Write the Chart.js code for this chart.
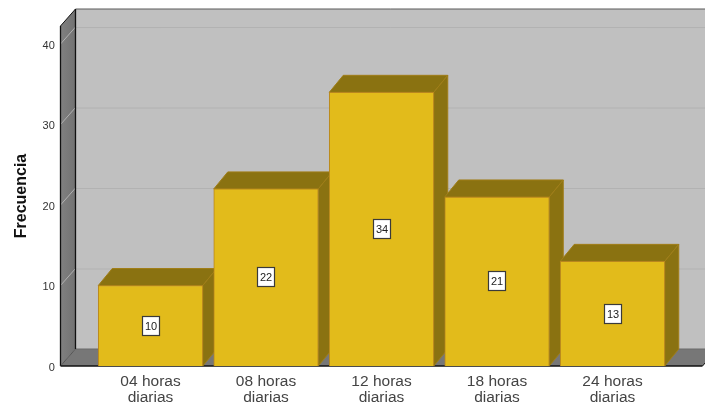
<!DOCTYPE html>
<html>
<head>
<meta charset="utf-8">
<script src="https://cdn.jsdelivr.net/npm/chart.js@4"></script>
<style>html,body{margin:0;padding:0;background:#fff}canvas{display:block}</style>
</head>
<body>
<canvas id="c" width="705" height="405"></canvas>
<script>
const categories = [["04 horas","diarias"],["08 horas","diarias"],["12 horas","diarias"],["18 horas","diarias"],["24 horas","diarias"]];
const frequencies = [10,22,34,21,13];
const yTickValues = [0,10,20,30,40];
const yAxisTitle = "Frecuencia";

const DX = 15, DY = 17, BAR_DX = 14;
const FONT = '"Liberation Sans", Arial, sans-serif';

function poly(ctx, pts, fill, stroke) {
  ctx.beginPath();
  pts.forEach((p,i)=> i ? ctx.lineTo(p[0],p[1]) : ctx.moveTo(p[0],p[1]));
  ctx.closePath();
  if (fill) { ctx.fillStyle = fill; ctx.fill(); }
  if (stroke) { ctx.strokeStyle = stroke; ctx.lineWidth = 1; ctx.stroke(); }
}
function line(ctx, x1,y1,x2,y2,color,w) {
  ctx.beginPath(); ctx.moveTo(x1,y1); ctx.lineTo(x2,y2);
  ctx.strokeStyle = color; ctx.lineWidth = w||1; ctx.stroke();
}

const box3d = {
  id:'box3d',
  beforeDatasetsDraw(chart){
    const ctx = chart.ctx, ys = chart.scales.y;
    const L = 60.5, R = 702.5, B = ys.getPixelForValue(0), T = ys.getPixelForValue(ys.max);
    ctx.save();
    poly(ctx, [[L+DX,T-DY],[R+DX,T-DY],[R+DX,B-DY],[L+DX,B-DY]], '#c0c0c0');
    const g = ctx.createLinearGradient(L,0,L+DX,0);
    g.addColorStop(0,'#808080'); g.addColorStop(1,'#727272');
    poly(ctx, [[L,T],[L+DX,T-DY],[L+DX,B-DY],[L,B]], g);
    poly(ctx, [[L,B],[L+DX,B-DY],[R+DX,B-DY],[R,B]], '#777777');
    yTickValues.forEach(v=>{
      const y = ys.getPixelForValue(v);
      if (v>0) {
        line(ctx, L+DX, y-DY+0.5, R+DX, y-DY+0.5, '#b2b2b2');
        line(ctx, L, y, L+DX, y-DY, '#b2b2b2');
      }
    });
    line(ctx, L+DX, T-DY, R+DX, T-DY, '#5a5a5a');
    line(ctx, L+DX, B-DY, R+DX, B-DY, '#6a6a6a');
    line(ctx, L+DX, T-DY, L+DX, B-DY, '#111', 1.3);
    line(ctx, L, T, L, B, '#111', 1.3);
    line(ctx, L, T, L+DX, T-DY, '#111', 1);
    line(ctx, L, B, L+DX, B-DY, '#555', 1);
    line(ctx, L, B, R, B, '#111', 1.3);
    line(ctx, R, B, R+DX, B-DY, '#111', 1);
    const meta = chart.getDatasetMeta(0);
    meta.data.forEach(bar=>{
      const p = bar.getProps(['x','y','base','width'], true);
      const l = p.x-p.width/2, r = p.x+p.width/2, t = p.y, b = p.base;
      poly(ctx, [[l,t],[l+BAR_DX,t-DY],[r+BAR_DX,t-DY],[r,t]], '#8a7211', '#a07e18');
      poly(ctx, [[r,t],[r+BAR_DX,t-DY],[r+BAR_DX,b-DY],[r,b]], '#8a7211', '#a07e18');
    });
    ctx.restore();
  },
  afterDatasetsDraw(chart){
    const ctx = chart.ctx;
    const meta = chart.getDatasetMeta(0);
    ctx.save();
    ctx.font = '11px '+FONT;
    ctx.textAlign = 'center';
    ctx.textBaseline = 'middle';
    meta.data.forEach((bar,i)=>{
      const p = bar.getProps(['x','y','base'], true);
      const cx = Math.round(p.x), cy = Math.round((p.y+p.base)/2);
      ctx.fillStyle = '#fff';
      ctx.fillRect(cx-8.5, cy-9.5, 17, 19);
      ctx.strokeStyle = '#3a3a3a'; ctx.lineWidth = 1.2;
      ctx.strokeRect(cx-8.5, cy-9.5, 17, 19);
      ctx.fillStyle = '#222';
      ctx.fillText(String(frequencies[i]), cx, cy+0.5);
    });
    ctx.restore();
  }
};

new Chart(document.getElementById('c'), {
  type:'bar',
  data:{
    labels:categories,
    datasets:[{
      data:frequencies,
      backgroundColor:'#e2bb1b',
      borderColor:'#b8861e',
      borderWidth:1,
      barThickness:104.5
    }]
  },
  plugins:[box3d],
  options:{
    responsive:false,
    animation:false,
    events:[],
    layout:{padding:{left:0,right:34.75,top:26,bottom:0}},
    plugins:{legend:{display:false},tooltip:{enabled:false}},
    scales:{
      x:{
        grid:{display:false,drawTicks:false},
        border:{display:false},
        ticks:{color:'#444',font:{family:FONT,size:15.5,lineHeight:1.03},padding:8,maxRotation:0,autoSkip:false},
        afterFit(s){s.height=39;}
      },
      y:{
        min:0,max:42.24,
        grid:{display:false,drawTicks:true,tickLength:38},
        border:{display:false},
        ticks:{color:'#333',font:{family:FONT,size:11},padding:0,labelOffset:1.5},
        afterBuildTicks(s){s.ticks=yTickValues.map(v=>({value:v}));},
        afterFit(s){s.width=92.75;},
        title:{display:true,text:yAxisTitle,color:'#111',font:{family:FONT,size:16,weight:'bold'},padding:{top:11.5,bottom:0}}
      }
    }
  }
});
</script>
</body>
</html>
